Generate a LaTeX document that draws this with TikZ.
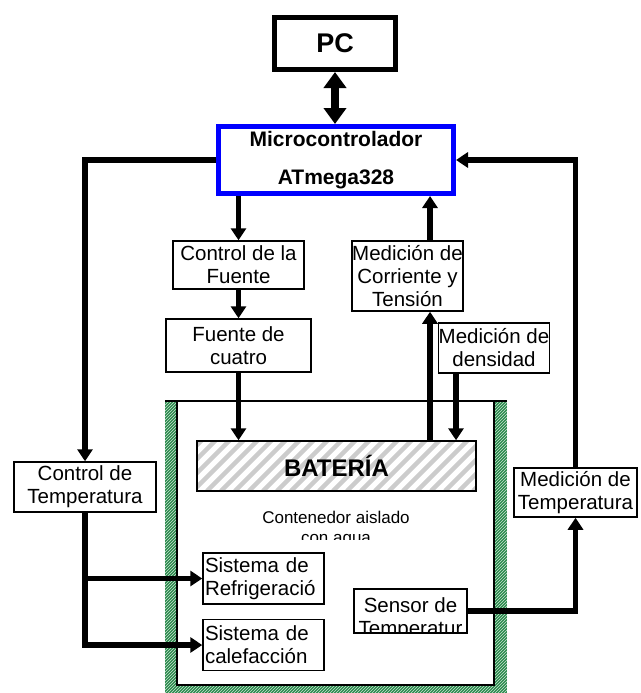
\documentclass[tikz,border=0pt]{standalone}
\usepackage{fontspec}
\setmainfont{Liberation Sans}
\usepackage{xcolor}
\definecolor{mcublue}{HTML}{0000FF}
\definecolor{wallgreen}{HTML}{2A8A4C}
\usepackage{tikz}
\usetikzlibrary{arrows.meta, patterns, calc}

\newcommand{\boxfont}{\fontsize{20.5}{23}\selectfont}

\begin{document}
\begin{tikzpicture}[x=1pt, y=-1pt,
    blk/.style={draw, line width=1.5pt, fill=white, font=\boxfont,
                align=center, inner sep=0pt},
    sysbox/.style={blk, align=left, text width=117pt, inner xsep=2pt,
                   minimum height=51pt},
    link/.style={line width=5.5pt, -{Triangle[length=12pt, width=15pt]}}]

  \useasboundingbox (0,0) rectangle (640,693);

  % insulated tank
  \fill[wallgreen] (165,401) rectangle (507,693);
  \fill[pattern=north east lines, pattern color=white!75!wallgreen] (165,401) rectangle (507,693);
  \draw[line width=2pt, fill=white] (177,401) rectangle (494,685);
  \draw[line width=2pt] (165,401) -- (507,401);

  \begin{scope}
    \clip (177,500) rectangle (494,539);
    \node[font=\fontsize{17}{20}\selectfont, align=center] (tanklbl)
      at (336,529) {Contenedor aislado\\con agua};
  \end{scope}

  \node[draw, line width=5pt, minimum width=121pt, minimum height=52pt,
        font=\fontsize{27}{30}\selectfont\bfseries] (pc)
        at (335,43.5) {PC};

  \node[draw=mcublue, line width=5pt, fill=white, minimum width=235pt,
        minimum height=67pt, align=center,
        font=\fontsize{21}{24}\selectfont\bfseries] (mcu)
        at (336,160) {Microcontrolador\\[14pt]ATmega328};

  \node[blk, minimum width=131pt, minimum height=48pt] (ctrlfuente)
        at (238.5,265) {Control de la\\Fuente};
  \node[blk, minimum width=145pt, minimum height=53pt] (fuente)
        at (238.5,345.5) {Fuente de\\cuatro};
  \node[blk, minimum width=108pt, minimum height=70pt] (medci)
        at (407.5,276) {Medición de\\Corriente y\\Tensión};
  \node[blk, minimum width=100pt, minimum height=50pt] (medden)
        at (494,348) {Medición de\\densidad};

  \node[draw, line width=1.5pt, minimum width=279pt, minimum height=50pt,
        font=\fontsize{24}{28}\selectfont\bfseries,
        path picture={
          \foreach \k in {-60,-46,...,300}
            \draw[black!20, line width=4.5pt]
              ([xshift=\k pt]path picture bounding box.south west) -- ++(60pt,60pt);
        }] (bat) at (336.5,466) {BATERÍA};

  \node[blk, minimum width=142pt, minimum height=50pt] (ctrltemp)
        at (85,487) {Control de\\Temperatura};
  \node[blk, minimum width=123pt, minimum height=49pt] (medtemp)
        at (575.5,492.5) {Medición de\\Temperatura};

  \node[sysbox] (refrig) at (263.5,578.5) {Sistema de\\Refrigeració};
  \node[sysbox] (calef) at (263.5,645) {Sistema de\\calefacción};

  \node[blk, minimum width=113pt, minimum height=44pt,
        path picture={
          \node[font=\boxfont, align=center]
            at ([yshift=-8pt]path picture bounding box.center)
            {Sensor de\\Temperatur};
        }] (sensor) at (410.5,611) {};

  % connectors
  \coordinate (vi) at (430,0);
  \coordinate (dn) at (456,0);

  \draw[line width=8pt, {Triangle[length=16pt, width=22pt]}-{Triangle[length=16pt, width=22pt]}]
    (pc.south) -- (pc.south |- mcu.north);
  \draw[link] (mcu.west) -| (ctrltemp.north);
  \draw[link] (medtemp.north) |- (mcu.east);
  \draw[link] (mcu.south -| ctrlfuente.north) -- (ctrlfuente.north);
  \draw[link] (ctrlfuente.south) -- (fuente.north);
  \draw[link] (fuente.south) -- (fuente.south |- bat.north);
  \draw[link] (vi |- medci.north) -- (vi |- mcu.south);
  \draw[link] (vi |- bat.north) -- (vi |- medci.south);
  \draw[link] (dn |- medden.south) -- (dn |- bat.north);
  \draw[link] (ctrltemp.south) |- (refrig.west);
  \draw[link] (ctrltemp.south) |- (calef.west);
  \draw[link] (sensor.east) -| (medtemp.south);

\end{tikzpicture}
\end{document}
